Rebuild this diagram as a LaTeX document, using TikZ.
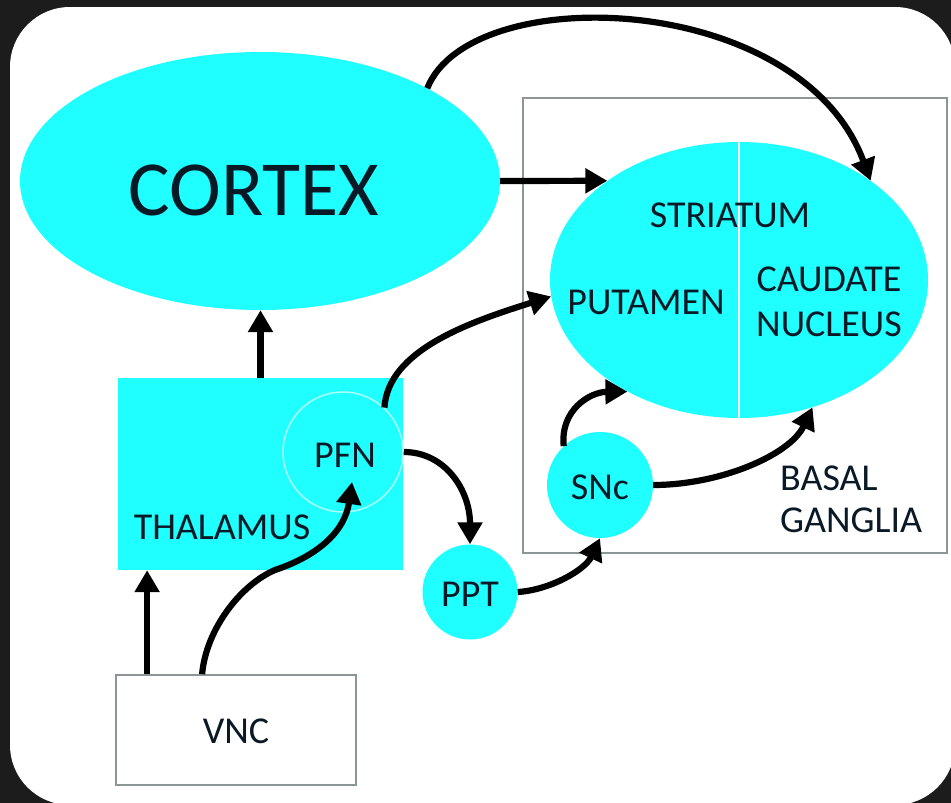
\documentclass[tikz,border=0pt]{standalone}
\usepackage{fontspec}
\setmainfont{Carlito}
\usetikzlibrary{arrows.meta,shapes.geometric}
\definecolor{cy}{RGB}{32,255,255}
\definecolor{txt}{RGB}{10,25,38}
\definecolor{boxgray}{RGB}{140,150,150}
\definecolor{bgdark}{RGB}{28,28,28}
\definecolor{pfnline}{RGB}{170,255,255}
\begin{document}
\begin{tikzpicture}[x=1pt,y=-1pt,
  lab/.style={text=txt,font=\fontsize{38}{45}\selectfont,inner sep=0pt},
  conn/.style={line width=6.2pt,-{Triangle[length=22pt,width=24pt]}},
  blob/.style={fill=cy,inner sep=0pt,draw=none},
  graybox/.style={draw=boxgray,line width=1.8pt,inner sep=0pt}]
\useasboundingbox (0,0) rectangle (951,803);
\fill[bgdark] (0,0) rectangle (951,803);
\fill[white,rounded corners=60pt] (10,7) rectangle (955,805);

% basal ganglia frame
\node[graybox,minimum width=424pt,minimum height=455pt] (bgbox) at (735,325.5) {};

% shapes
\node[blob,ellipse,minimum width=480pt,minimum height=258pt] (cortex) at (260,181) {};
\node[blob,ellipse,minimum width=378pt,minimum height=276pt] (striatum) at (739,280) {};
\draw[white,line width=2.5pt] (striatum.north) -- (striatum.south);
\node[blob,rectangle,minimum width=285pt,minimum height=192pt] (thalamus) at (260.5,474) {};
\node[circle,draw=pfnline,line width=1.5pt,inner sep=0pt,minimum size=120pt] (pfn) at (343,452) {};
\node[blob,circle,minimum size=106pt] (snc) at (600,485) {};
\node[blob,circle,minimum size=95pt] (ppt) at (470,592) {};
\node[graybox,minimum width=240pt,minimum height=110pt] (vnc) at (236,730) {};

% labels
\node[lab,font=\fontsize{78}{80}\selectfont] (cortexlab) at (254,190) {CORTEX};
\node[lab] (striatumlab) at (730,215) {STRIATUM};
\node[lab] (putamenlab) at (646,302) {PUTAMEN};
\node[lab,align=center] (caudatelab) at (829,302) {CAUDATE\\NUCLEUS};
\node[lab,align=left,anchor=west] (bglab) at (780,499) {BASAL\\[-3pt]GANGLIA};
\node[lab] (thallab) at (222,527) {THALAMUS};
\node[lab] (pfnlab) at (345,455) {PFN};
\node[lab] (snclab) at (600,487) {SNc};
\node[lab] (pptlab) at (470,594) {PPT};
\node[lab] (vnclab) at (236,731) {VNC};

% connector end points on VNC
\coordinate (vncl) at ([xshift=32pt]vnc.north west);
\coordinate (vncr) at ([xshift=87pt]vnc.north west);
\coordinate (pfnin) at ([xshift=9pt,yshift=-30pt]pfn.center);

% connectors
\draw[conn] (cortex.29) .. controls (470,-20) and (800,-10) .. (striatum.37);
\draw[conn] (cortex.east) -- (striatum.143);
\draw[conn] (thalamus.north) -- (thalamus.north |- cortex.south);
\draw[conn] (pfn.47) .. controls (388,350) and (470,322) .. (striatum.185);
\draw[conn] (pfn.east) .. controls (445,452) and (470,490) .. (ppt.north);
\draw[conn] (vncr) .. controls (206,630) and (240,585) .. (275,570) .. controls (320,555) and (345,530) .. (pfnin);
\draw[conn] (vncl) -- (vncl |- thalamus.south);
\draw[conn] (ppt.east) .. controls (550,590) and (585,570) .. (snc.south);
\draw[conn] (snc.133) .. controls (560,410) and (590,392) .. (striatum.225);
\draw[conn] (snc.east) .. controls (720,485) and (790,455) .. (striatum.300);
\end{tikzpicture}
\end{document}
